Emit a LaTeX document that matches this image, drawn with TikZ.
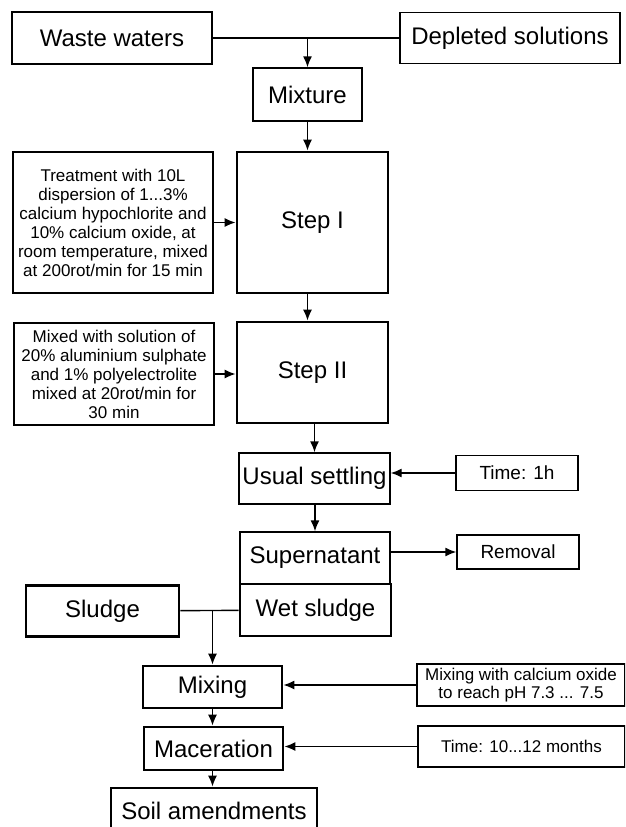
\documentclass[tikz,border=0pt]{standalone}
\usepackage{fontspec}
\setmainfont{Liberation Sans}
\usetikzlibrary{positioning,arrows.meta}

\begin{document}
\begin{tikzpicture}
            [x=1pt, y=-1pt, font=\fontsize{24}{28}\selectfont,
            % every node/.style={draw, rectangle, align=center},
            box/.style={draw=black, line width=1.4pt, inner sep=1pt},
            thickbox/.style={draw=black, line width=2.8pt, inner sep=1pt},
            notebox/.style={draw=black, line width=1.3pt, inner sep=1pt, align=center,
                font=\fontsize{17}{19}\selectfont},
            flow/.style={draw=black, line width=1.4pt, -{Latex[length=11pt, width=9pt]}},
            joint/.style={draw=black, line width=1.4pt}]
            \useasboundingbox (0,0) rectangle (625,827);
            \clip (0,0) rectangle (625,827);

            % inputs
            \node [box, minimum width=200pt, minimum height=52pt] (waste) at (112,38) {Waste waters};
            \node [box, minimum width=220pt, minimum height=51pt] (depleted) at (510,38) {Depleted solutions};
            \node [box, minimum width=109pt, minimum height=53pt] (mixture) at (307.5,94.5) {Mixture};
            \coordinate (j1) at (mixture.north |- waste.east);

            % treatment steps
            \node [thickbox, minimum width=151pt, minimum height=141pt] (step1) at (312.5,222.5) {Step I};
            \node [notebox, minimum width=200pt, minimum height=141pt] (treat) at (113,222.5)
                {Treatment with 10L\\ dispersion of 1...3\%\\ calcium hypochlorite and\\
                 10\% calcium oxide, at\\ room temperature, mixed\\ at 200rot/min for 15 min};
            \node [thickbox, minimum width=151pt, minimum height=101pt] (step2) at (312.5,372.5) {Step II};
            \node [notebox, minimum width=200pt, minimum height=102pt] (mixed) at (114,374)
                {Mixed with solution of\\ 20\% aluminium sulphate\\ and 1\% polyelectrolite\\
                 mixed at 20rot/min for\\ 30 min};

            % settling
            \node [box, minimum width=151pt, minimum height=51pt] (settle) at (314.5,478.5) {Usual settling};
            \node [box, minimum width=122pt, minimum height=35pt, font=\fontsize{19}{22}\selectfont] (time1) at (517,473) {Time: 1h};
            \node [box, minimum width=150pt, minimum height=52pt] (super) at (315,558) {Supernatant};
            \node [box, minimum width=122pt, minimum height=34pt, font=\fontsize{19}{22}\selectfont] (removal) at (518,552) {Removal};
            \node [thickbox, minimum width=151pt, minimum height=52pt] (wet) at (315.5,610) {Wet sludge};
            \node [thickbox, minimum width=153pt, minimum height=51pt] (sludge) at (102.5,611) {Sludge};

            % final treatment
            \node [thickbox, minimum width=139pt, minimum height=42pt] (mixing) at (212.5,687) {Mixing};
            \node [notebox, minimum width=208pt, minimum height=42pt, font=\fontsize{17}{17.5}\selectfont] (ph) at (521,685)
                {Mixing with calcium oxide\\ to reach pH 7.3 ... 7.5};
            \node [thickbox, minimum width=139pt, minimum height=43pt] (macer) at (213.5,748.5) {Maceration};
            \node [notebox, minimum width=207pt, minimum height=41pt] (months) at (521.5,746.5) {Time: 10...12 months};
            \node [thickbox, minimum width=206pt, minimum height=45pt] (soil) at (214,810.5) {Soil amendments};
            \coordinate (j2) at (mixing.north |- sludge.east);

            \draw [joint] (waste) -- (depleted);
            \draw [flow] (j1) -- (mixture);
            \draw [flow] (mixture.south) -- (mixture.south |- step1.north);
            \draw [flow] (treat.east) -- (treat.east -| step1.west);
            \draw [flow] (step1.south -| mixture.south) -- (step2.north -| mixture.south);
            \draw [flow] (mixed.east) -- (mixed.east -| step2.west);
            \draw [flow] (step2.south -| settle.north) -- (settle.north);
            \draw [flow] (time1.west) -- (time1.west -| settle.east);
            \draw [flow] (settle.south -| super.north) -- (super.north);
            \draw [flow] (removal.west -| super.east) -- (removal.west);
            \draw [joint] (sludge) -- (wet);
            \draw [flow] (j2) -- (mixing);
            \draw [flow] (ph.west) -- (ph.west -| mixing.east);
            \draw [flow] (mixing) -- (macer.north -| mixing.south);
            \draw [flow] (months.west) -- (months.west -| macer.east);
            \draw [flow] (macer.south -| mixing.south) -- (soil.north -| mixing.south);
\end{tikzpicture}
\end{document}
